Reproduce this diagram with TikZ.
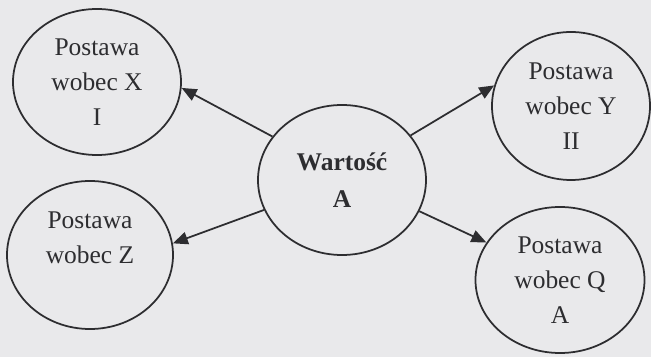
\documentclass[tikz,border=0pt]{standalone}
\usepackage{fontspec}
\setmainfont{Liberation Serif}
\usetikzlibrary{shapes.geometric,arrows.meta}
\definecolor{paper}{RGB}{233,233,235}
\definecolor{ink}{RGB}{45,45,48}
\tikzset{
  oval/.style={ellipse,draw=ink,line width=1pt,inner sep=0pt,align=center,
    text=ink,font=\fontsize{14.5}{20}\selectfont},
  arr/.style={draw=ink,line width=1pt,-{Triangle[length=0.3cm,width=0.25cm]}}
}
\begin{document}
\begin{tikzpicture}
\fill[paper] (0,0) rectangle (13.02,-7.14);
\useasboundingbox (0,0) rectangle (13.02,-7.14);
% --- value in the middle ---
\node[oval,minimum width=3.36cm,minimum height=3.00cm,font=\fontsize{14.5}{21}\selectfont\bfseries] (val) at (6.84,-3.60) {Warto\'s\'c\\A};
% --- attitudes ---
\node[oval,minimum width=3.36cm,minimum height=2.92cm] (postX) at (1.94,-1.64) {Postawa\\wobec X\\I};
\node[oval,minimum width=3.16cm,minimum height=2.96cm] (postY) at (11.42,-2.12) {Postawa\\wobec Y\\II};
\node[oval,minimum width=3.32cm,minimum height=2.96cm] (postZ) at (1.80,-5.10) {Postawa\\wobec Z\\\mbox{}};
\node[oval,minimum width=3.38cm,minimum height=2.92cm] (postQ) at (11.20,-5.60) {Postawa\\wobec Q\\A};
% --- arrows ---
\draw[arr] (val.148.7) -- (postX.-4);
\draw[arr] (val.33.5) -- (postY.165.5);
\draw[arr] (val.201.8) -- (postZ.8);
\draw[arr] (val.-22.3) -- (postQ.153);
\end{tikzpicture}
\end{document}
